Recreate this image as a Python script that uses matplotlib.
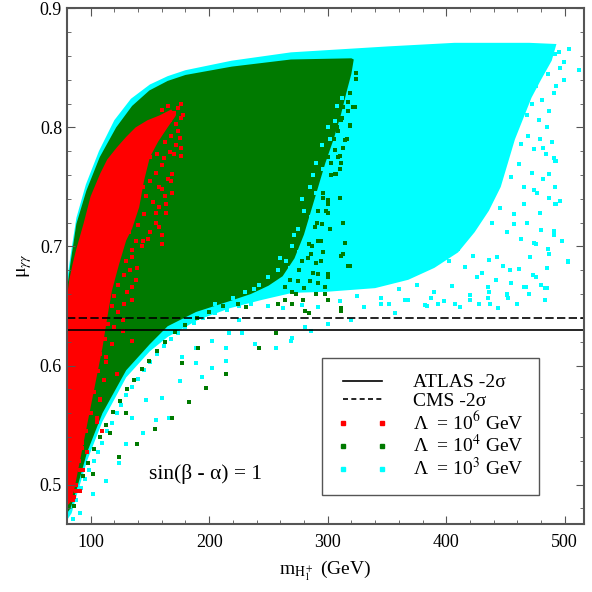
import matplotlib
matplotlib.use("Agg")
import matplotlib.pyplot as plt
from matplotlib.lines import Line2D

plt.rcParams['font.family'] = ['Liberation Serif', 'DejaVu Serif']
plt.rcParams['mathtext.fontset'] = 'stix'

# dense cores of each scan, outline (m_H, mu)
cyan_core_x = [80, 83, 88, 96, 107, 120, 134, 150, 165, 180, 219, 269, 351, 407, 470, 493,
               489, 480, 472, 466, 458, 452, 446, 436, 424, 410, 390, 368, 340, 300, 270, 244, 217, 190, 165,
               150, 130, 110, 97, 88, 84, 80]
cyan_core_y = [0.67, 0.692, 0.724, 0.752, 0.78, 0.806, 0.824, 0.836, 0.843, 0.848, 0.856, 0.863, 0.868, 0.871, 0.871, 0.870,
               0.856, 0.84, 0.825, 0.81, 0.79, 0.77, 0.75, 0.73, 0.712, 0.695, 0.682, 0.672, 0.665, 0.662, 0.661, 0.655, 0.648, 0.638, 0.624,
               0.612, 0.590, 0.553, 0.520, 0.490, 0.476, 0.470]

green_core_x = [80, 83, 88, 96.5, 107.7, 121.6, 135, 149.6, 165, 180, 219, 269, 320,
                322, 320, 316, 311, 305, 298, 292, 286, 280, 272, 262, 250, 235, 217, 189, 165, 150, 130, 110, 97, 88, 83, 80]
green_core_y = [0.663, 0.686, 0.719, 0.747, 0.775, 0.80, 0.818, 0.831, 0.839, 0.844, 0.851, 0.857, 0.858,
                0.857, 0.845, 0.83, 0.81, 0.79, 0.77, 0.75, 0.73, 0.71, 0.69, 0.675, 0.667, 0.66, 0.654, 0.645, 0.633, 0.618, 0.596, 0.560, 0.527, 0.495, 0.48, 0.476]

red_core_x = [80, 82, 85, 88, 94, 100, 108, 114, 122, 130, 138, 148, 158, 168, 172,
              165, 157, 150, 145, 141, 135, 130, 124, 118, 114, 110, 105, 100, 95, 90, 86, 83, 80]
red_core_y = [0.657, 0.672, 0.686, 0.698, 0.719, 0.742, 0.761, 0.773, 0.783, 0.792, 0.80, 0.806, 0.81, 0.815, 0.81,
              0.80, 0.788, 0.775, 0.755, 0.733, 0.715, 0.705, 0.685, 0.663, 0.64, 0.615, 0.59, 0.565, 0.54, 0.515, 0.495, 0.485, 0.482]

# scattered points outside the cores
cyan_dots_x = [482, 492, 487, 493, 479, 491, 476, 487, 485, 471, 476, 466, 485, 451, 437, 420,
               407, 393, 384, 365, 345, 331, 503, 474, 466, 457, 443, 426, 454, 435,
               495, 504, 499, 512, 499, 491, 487, 485, 491, 487, 492, 491, 503, 483,
               269, 286, 300, 320, 357, 387, 435, 451,
               217, 202, 239, 256, 270, 281, 300, 228, 189, 177,
               225, 214, 202, 189, 175, 166, 155, 144, 130, 124, 113, 102, 91, 85,
               147, 135, 160, 177, 194, 214,
               446, 452, 458, 463, 469, 474, 479, 484, 489, 493,
               438, 444, 450, 455, 461, 466, 472, 477, 482, 487, 492, 496,
               420, 427, 433, 439, 445, 451, 457, 463, 468, 474, 480, 486, 491, 498,
               395, 402, 410, 416, 423, 430, 436, 442, 448, 455, 461, 467, 473, 480,
               345, 352, 360, 368, 375, 382, 390, 398, 405, 412, 420, 428, 436, 444, 452, 460, 470, 483,
               492, 496, 480, 476, 472, 468, 481, 486, 493, 478,
               88, 92, 95, 99, 103, 106, 110, 114, 118, 122, 126, 130, 135, 140, 145, 150,
               156, 162, 168, 174, 180, 187, 195, 205, 215, 225, 235,
               250, 262, 278, 292, 310, 325]
cyan_dots_y = [0.783, 0.772, 0.761, 0.736, 0.728, 0.713, 0.702, 0.694, 0.682, 0.691, 0.674, 0.666, 0.665, 0.660, 0.652, 0.655,
               0.652, 0.652, 0.650, 0.655, 0.652, 0.649, 0.687, 0.747, 0.736, 0.719, 0.691, 0.674, 0.680, 0.666,
               0.863, 0.866, 0.855, 0.848, 0.840, 0.829, 0.814, 0.800, 0.774, 0.761, 0.736, 0.713, 0.688, 0.665,
               0.621, 0.629, 0.635, 0.638, 0.644, 0.657, 0.657, 0.659,
               0.627, 0.621, 0.618, 0.615, 0.623, 0.632, 0.635, 0.627, 0.615, 0.607,
               0.638, 0.615, 0.598, 0.602, 0.587, 0.556, 0.554, 0.543, 0.534, 0.518, 0.503, 0.492, 0.476, 0.471,
               0.571, 0.556, 0.573, 0.607, 0.590, 0.604,
               0.795, 0.790, 0.797, 0.786, 0.793, 0.782, 0.790, 0.778, 0.788, 0.772,
               0.772, 0.765, 0.776, 0.758, 0.769, 0.750, 0.762, 0.745, 0.757, 0.741, 0.750, 0.738,
               0.735, 0.726, 0.740, 0.720, 0.732, 0.712, 0.727, 0.706, 0.720, 0.703, 0.714, 0.698, 0.710, 0.705,
               0.695, 0.688, 0.698, 0.683, 0.692, 0.678, 0.689, 0.672, 0.684, 0.669, 0.681, 0.666, 0.676, 0.668,
               0.657, 0.652, 0.664, 0.655, 0.668, 0.651, 0.662, 0.654, 0.667, 0.649, 0.659, 0.652, 0.662, 0.648, 0.657, 0.652, 0.660, 0.655,
               0.862, 0.850, 0.850, 0.835, 0.820, 0.810, 0.823, 0.845, 0.835, 0.806,
               0.487, 0.497, 0.505, 0.512, 0.520, 0.527, 0.535, 0.545, 0.552, 0.560, 0.567, 0.575, 0.582, 0.589, 0.596, 0.603,
               0.610, 0.616, 0.622, 0.627, 0.632, 0.636, 0.640, 0.644, 0.647, 0.650, 0.652,
               0.650, 0.648, 0.651, 0.649, 0.654, 0.658]

# cyan points that show through the edge of the green core
cyan_specks_x = [300, 306, 295, 302, 290, 296, 285, 290, 280, 286, 275, 282, 270, 276, 265, 258, 268,
                 250, 242, 230, 312, 308, 260, 272, 278, 288, 220, 205, 238]
cyan_specks_y = [0.800, 0.805, 0.785, 0.790, 0.770, 0.765, 0.750, 0.745, 0.730, 0.725, 0.715, 0.705, 0.700, 0.695, 0.688, 0.680, 0.682,
                 0.674, 0.668, 0.662, 0.825, 0.818, 0.690, 0.710, 0.740, 0.760, 0.657, 0.652, 0.664]

green_dots_x = [324, 324, 323, 317, 319, 315, 313, 309, 311, 307, 310, 300, 313, 315, 311, 319, 300, 298,
                292, 300, 281, 311, 264, 290, 300, 256, 242, 231, 191,
                214, 197, 183, 169, 154, 139, 124, 177, 130, 116, 102,
                284, 270, 311,
                319, 321, 313, 317, 311, 319, 309, 306, 310, 303, 306, 296, 300, 292, 300, 295, 289, 292,
                284, 286, 294, 278, 313, 317, 292, 275, 285, 298, 290, 273, 279, 264, 258,
                300, 303, 296, 299, 291, 294, 287, 283, 276, 268, 305, 308, 312, 316, 310, 302, 296, 288, 280, 270,
                86, 90, 94, 98, 103, 108, 113, 119, 125, 131, 137, 143, 149, 156, 163, 171,
                180, 190, 200, 212, 224]
green_dots_y = [0.846, 0.841, 0.817, 0.814, 0.801, 0.789, 0.783, 0.775, 0.770, 0.761, 0.741, 0.739, 0.720, 0.703, 0.692, 0.684, 0.674, 0.660,
                0.669, 0.655, 0.646, 0.646, 0.655, 0.686, 0.677, 0.627, 0.615, 0.649, 0.615,
                0.593, 0.581, 0.569, 0.556, 0.547, 0.534, 0.523, 0.602, 0.560, 0.543, 0.509,
                0.644, 0.652, 0.648,
                0.829, 0.817, 0.817, 0.821, 0.806, 0.802, 0.797, 0.781, 0.776, 0.770, 0.761, 0.741, 0.736, 0.730, 0.728, 0.719, 0.716, 0.705,
                0.702, 0.694, 0.688, 0.688, 0.694, 0.684, 0.677, 0.671, 0.671, 0.666, 0.660, 0.660, 0.655, 0.666, 0.652,
                0.775, 0.760, 0.745, 0.730, 0.720, 0.705, 0.700, 0.690, 0.680, 0.672, 0.790, 0.800, 0.808, 0.790, 0.765, 0.715, 0.695, 0.678, 0.665, 0.662,
                0.482, 0.495, 0.507, 0.518, 0.530, 0.540, 0.550, 0.561, 0.570, 0.580, 0.588, 0.597, 0.604, 0.612, 0.620, 0.628,
                0.634, 0.640, 0.645, 0.650, 0.652]

red_dots_x = [176, 176, 175, 176, 170, 176, 160, 169, 168, 158, 169, 164, 155, 164, 158, 160, 144, 135, 139, 135,
              135, 127, 135, 113, 122, 108, 105, 110, 93, 91, 88, 85,
              160, 165, 170, 174, 178, 172, 167,
              152, 158, 163, 168, 172, 156, 162, 167, 174, 150,
              145, 150, 155, 160, 165, 147, 153, 158, 163, 144,
              135, 140, 145, 150, 155, 160, 138, 143, 148, 132,
              125, 130, 135, 128, 133, 138, 123, 131, 120,
              118, 123, 128, 115, 120, 127, 112, 118,
              108, 113, 106, 111, 103, 108, 100, 105, 96,
              93, 97, 90, 94, 88, 91, 86]
red_dots_y = [0.820, 0.808, 0.791, 0.783, 0.778, 0.776, 0.768, 0.761, 0.755, 0.750, 0.745, 0.736, 0.728, 0.728, 0.716, 0.702, 0.705, 0.691, 0.682, 0.666,
              0.655, 0.629, 0.621, 0.607, 0.593, 0.571, 0.556, 0.545, 0.531, 0.512, 0.495, 0.487,
              0.815, 0.818, 0.812, 0.816, 0.810, 0.803, 0.806,
              0.790, 0.795, 0.788, 0.793, 0.785, 0.778, 0.774, 0.779, 0.797, 0.775,
              0.765, 0.755, 0.762, 0.748, 0.757, 0.742, 0.737, 0.733, 0.742, 0.750,
              0.725, 0.718, 0.727, 0.712, 0.720, 0.710, 0.705, 0.700, 0.706, 0.712,
              0.695, 0.688, 0.697, 0.676, 0.680, 0.672, 0.668, 0.662, 0.658,
              0.650, 0.645, 0.652, 0.635, 0.632, 0.638, 0.622, 0.618,
              0.610, 0.603, 0.595, 0.588, 0.578, 0.572, 0.560, 0.553, 0.545,
              0.535, 0.527, 0.520, 0.512, 0.500, 0.495, 0.490]

atlas_mu = 0.63
cms_mu = 0.64

CYAN = '#00ffff'
GREEN = '#007a00'
RED = '#ff0000'

fig = plt.figure(figsize=(5.92, 5.92), dpi=100)
ax = fig.add_axes([0.113, 0.115, 0.873, 0.871])

ax.fill(cyan_core_x, cyan_core_y, color=CYAN, lw=0)
ax.scatter(cyan_dots_x, cyan_dots_y, s=6, marker='s', color=CYAN, lw=0)
ax.fill(green_core_x, green_core_y, color=GREEN, lw=0)
ax.scatter(cyan_specks_x, cyan_specks_y, s=5, marker='s', color=CYAN, lw=0)
ax.scatter(green_dots_x, green_dots_y, s=6, marker='s', color=GREEN, lw=0)
ax.fill(red_core_x, red_core_y, color=RED, lw=0)
ax.scatter(red_dots_x, red_dots_y, s=6, marker='s', color=RED, lw=0)

ax.axhline(atlas_mu, color='black', lw=1.2)
ax.axhline(cms_mu, color='black', lw=1.2, ls=(0, (5, 2)))

ax.set_xlim(80, 516)
ax.set_ylim(0.467, 0.9)
ax.set_xticks([100, 200, 300, 400, 500])
ax.set_yticks([0.5, 0.6, 0.7, 0.8, 0.9])
ax.set_xticks(range(80, 516, 20), minor=True)
ax.set_yticks([0.48 + 0.02 * i for i in range(21)], minor=True)
ax.tick_params(which='both', direction='in', top=True, right=True, color='#555555', labelsize=13)
ax.tick_params(which='major', length=6)
ax.tick_params(which='minor', length=3)
ax.tick_params(axis='x', which='both', pad=7)
for sp in ax.spines.values():
    sp.set_color('#555555')
    sp.set_linewidth(1.5)

ax.set_xlabel(r'm$_{\mathrm{H}_1^+}$ (GeV)', fontsize=14, labelpad=6)
ax.set_ylabel(r'μ$_{\gamma\gamma}$', fontsize=14)

ax.text(149, 0.505, 'sin(β - α) = 1', fontsize=15.5)

handles = [
    Line2D([], [], color='black', lw=1.2),
    Line2D([], [], color='black', lw=1.2, ls=(0, (3, 2))),
    Line2D([], [], color=RED, marker='s', ms=2.5, ls='none'),
    Line2D([], [], color=GREEN, marker='s', ms=2.5, ls='none'),
    Line2D([], [], color=CYAN, marker='s', ms=2.5, ls='none'),
]
labels = ['ATLAS -2σ', 'CMS -2σ', r'Λ  = 10$^6$ GeV', r'Λ  = 10$^4$ GeV', r'Λ  = 10$^3$ GeV']
leg = ax.legend(handles, labels, loc='lower left', bbox_to_anchor=(0.493, 0.056),
                fontsize=14, numpoints=2, fancybox=False, framealpha=1,
                handlelength=2.6, handletextpad=1.3, labelspacing=0.05,
                borderpad=0.8, borderaxespad=0)
leg.get_frame().set_edgecolor('#555555')
leg.get_frame().set_linewidth(1.0)

fig.savefig('out.png', dpi=100)
